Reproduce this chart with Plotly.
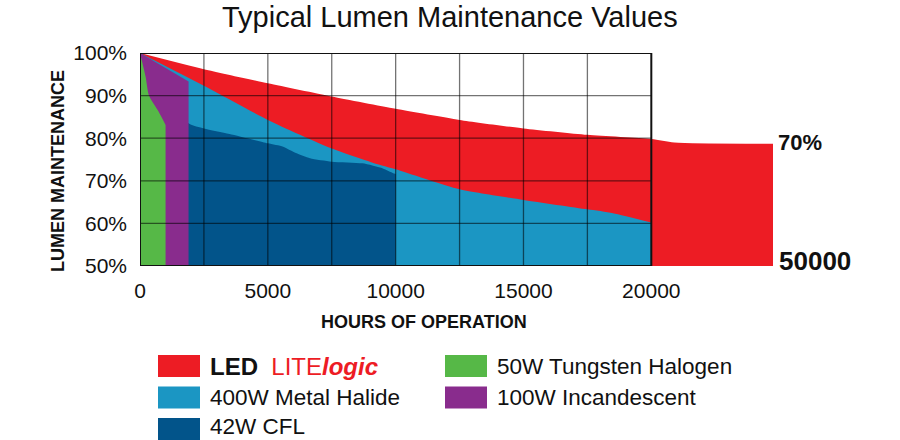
import plotly.graph_objects as go

# ---------------- data ----------------
led_hours = [0, 2500, 5000, 7500, 10000, 12500, 15000, 17500, 20000, 20900, 24760]
led_vals = [100, 96.2, 92.9, 89.8, 86.9, 84.3, 82.3, 80.8, 79.8, 79.0, 78.7]

mh_hours = [0, 2500, 5000, 7500, 9400, 10000, 12500, 15000, 17500, 18500, 20000]
mh_vals = [100, 92.3, 84.3, 77.6, 73.7, 72.7, 68.0, 65.5, 63.3, 62.4, 60.2]

cfl_hours = [0, 1900, 2500, 3500, 5000, 5600, 6100, 6650, 7500, 8700, 9500, 9900, 10000]
cfl_vals = [100, 83.5, 82.3, 81.0, 78.8, 78.0, 76.5, 75.3, 74.5, 74.1, 72.9, 71.8, 71.6]

inc_hours = [0, 1900]
inc_vals = [100, 93.3]

hal_hours = [0, 220, 350, 720, 1000]
hal_vals = [100, 94.4, 90.0, 86.3, 83.1]

series_names = ["LEDLITElogic", "400W Metal Halide", "42W CFL", "50W Tungsten Halogen", "100W Incandescent"]
series_colors = ["#ED1C24", "#1B96C3", "#02548A", "#56B847", "#892C8D"]

x_tick_vals = [0, 5000, 10000, 15000, 20000]
x_tick_text = ["0", "5000", "10000", "15000", "20000"]
y_tick_vals = [50, 60, 70, 80, 90, 100]
y_tick_text = ["50%", "60%", "70%", "80%", "90%", "100%"]
grid_x = [2500, 5000, 7500, 10000, 12500, 15000, 17500]
grid_y = [60, 70, 80, 90]
frame_x = [0, 20000]
frame_y = [50, 100]
x_range = [0, 24760]

title_text = "Typical Lumen Maintenance Values"
x_title = "HOURS OF OPERATION"
y_title = "LUMEN MAINTENANCE"
end_pct = "70%"
end_hours = "50000"

# ---------------- layout geometry ----------------
W, H = 900, 440
L, R, T, B = 140, 127, 53, 174
PW, PH = W - L - R, H - T - B

def px(xp):
    return (xp - L) / PW

def py(yp):
    return (H - B - yp) / PH

FONT = "Liberation Sans, Arial, Helvetica, sans-serif"
INK = "#111"

fig = go.Figure()
series = [
    (led_hours, led_vals, 0, "spline"),
    (mh_hours, mh_vals, 1, "spline"),
    (cfl_hours, cfl_vals, 2, "spline"),
    (inc_hours, inc_vals, 4, "linear"),
    (hal_hours, hal_vals, 3, "spline"),
]
for xs, ys, i, shp in series:
    fig.add_trace(go.Scatter(x=xs, y=ys, mode="none", fill="tozeroy",
                             line=dict(shape=shp, smoothing=0.6),
                             fillcolor=series_colors[i], name=series_names[i],
                             showlegend=False, hoverinfo="skip"))

shapes = []
grid_line = dict(color="rgba(0,0,0,0.55)", width=1.3)
for gx in grid_x:
    shapes.append(dict(type="line", xref="x", yref="y", x0=gx, x1=gx,
                       y0=frame_y[0], y1=frame_y[1], line=grid_line, layer="above"))
for gy in grid_y:
    shapes.append(dict(type="line", xref="x", yref="y", x0=frame_x[0], x1=frame_x[1],
                       y0=gy, y1=gy, line=grid_line, layer="above"))
shapes.append(dict(type="rect", xref="x", yref="y", x0=frame_x[0], x1=frame_x[1],
                   y0=frame_y[0], y1=frame_y[1], line=dict(color=INK, width=2),
                   layer="above"))

annotations = []
# custom legend (swatch + label)
legend_slots = [
    (0, 158, 355, 366), (1, 158, 386.5, 397.5), (2, 158, 418, 426.5),
    (3, 445, 355, 366), (4, 445, 386.5, 397.5),
]
for i, sx, sy, ty in legend_slots:
    shapes.append(dict(type="rect", xref="paper", yref="paper",
                       x0=px(sx), x1=px(sx + 42), y0=py(sy), y1=py(sy + 22),
                       fillcolor=series_colors[i], line=dict(width=0), layer="above"))
    if i == 0:
        txt = ("<b>LED</b><span style='color:#56B847'>  </span>"
               "<span style='color:#ED1C24'>LITE</span>"
               "<span style='color:#ED1C24'><b><i>logic</i></b></span>")
        size = 24
    else:
        txt = series_names[i]
        size = 22.5
    annotations.append(dict(text=txt, xref="paper", yref="paper",
                            x=px(sx + 50), y=py(ty), xanchor="left", yanchor="middle",
                            showarrow=False, font=dict(family=FONT, size=size, color=INK)))

annotations += [
    dict(text=title_text, xref="paper", yref="paper", x=px(450), y=py(17),
         xanchor="center", yanchor="middle", showarrow=False,
         font=dict(family=FONT, size=29, color=INK)),
    dict(text="<b>" + x_title + "</b>", xref="paper", yref="paper", x=px(424), y=py(322),
         xanchor="center", yanchor="middle", showarrow=False,
         font=dict(family=FONT, size=18, color=INK)),
    dict(text="<b>" + y_title + "</b>", xref="paper", yref="paper", x=px(58), y=py(171),
         xanchor="center", yanchor="middle", showarrow=False, textangle=-90,
         font=dict(family=FONT, size=18, color=INK)),
    dict(text="<b>" + end_pct + "</b>", xref="paper", yref="paper", x=px(776), y=py(142),
         xanchor="left", yanchor="middle", showarrow=False,
         font=dict(family=FONT, size=22, color=INK)),
    dict(text="<b>" + end_hours + "</b>", xref="paper", yref="paper", x=px(777), y=py(261),
         xanchor="left", yanchor="middle", showarrow=False,
         font=dict(family=FONT, size=26, color=INK)),
]

fig.update_layout(
    width=W, height=H,
    margin=dict(l=L, r=R, t=T, b=B, pad=0),
    paper_bgcolor="white", plot_bgcolor="rgba(0,0,0,0)",
    shapes=shapes, annotations=annotations, showlegend=False,
    xaxis=dict(range=x_range, tickvals=x_tick_vals, ticktext=x_tick_text,
               showgrid=False, zeroline=False, showline=False, ticks="",
               ticklabelstandoff=10,
               tickfont=dict(family=FONT, size=21, color=INK), fixedrange=True),
    yaxis=dict(range=[frame_y[0], frame_y[1]], tickvals=y_tick_vals, ticktext=y_tick_text,
               showgrid=False, zeroline=False, showline=False, ticks="",
               ticklabelstandoff=12,
               tickfont=dict(family=FONT, size=21, color=INK), fixedrange=True),
)

fig.write_html("out.html")
